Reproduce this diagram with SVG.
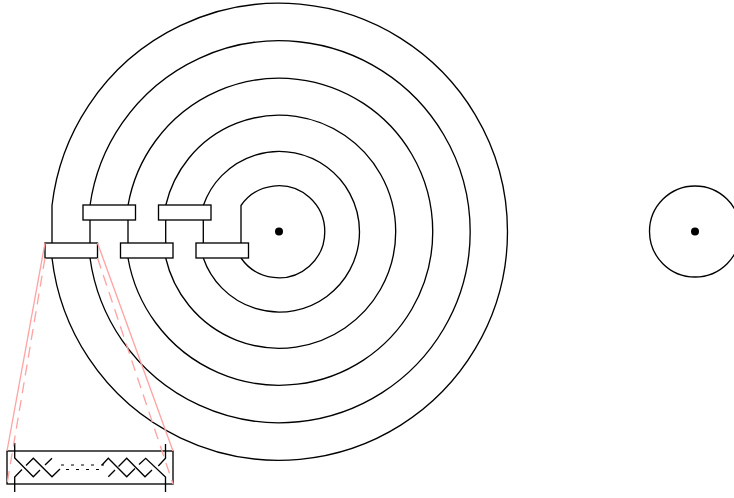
<svg xmlns="http://www.w3.org/2000/svg" width="734" height="498" viewBox="0 0 734 498">
<style>
.l{fill:none;stroke:#000;stroke-width:1.33}
.b{fill:#fff;stroke:#000;stroke-width:1.33}
.d{fill:#000;stroke:none}
.p{fill:none;stroke:#ffa3a3;stroke-width:1.33}
.pd{stroke-dasharray:11 7}
.dash{fill:none;stroke:#000;stroke-width:1.2;stroke-dasharray:3 7}
</style>
<rect width="734" height="498" fill="#fff"/>
<g id="coil" class="l">
<path d="M241,243V205.500A46 46 0 1 1 241,258"/>
<path d="M203.300,243V205.500A80.300 80.300 0 1 1 203.300,258"/>
<path d="M165.700,243V205.500A116.500 116.500 0 1 1 165.700,258"/>
<path d="M128,243V205.500A153.500 153.500 0 1 1 128,258"/>
<path d="M90,243V205.500A191 191 0 1 1 90,258"/>
<path d="M52,243V205.500A228.500 228.500 0 1 1 52,258"/>
</g>
<g id="gates">
<rect class="b" x="83" y="205" width="52.500" height="15"/>
<rect class="b" x="158.500" y="205" width="52.500" height="15"/>
<rect class="b" x="45" y="243" width="52.500" height="15"/>
<rect class="b" x="120.500" y="243" width="52.500" height="15"/>
<rect class="b" x="196" y="243" width="52.500" height="15"/>
</g>
<circle id="center-dot" class="d" cx="279" cy="231.500" r="4"/>
<g id="right-disc">
<circle class="l" cx="695" cy="231.500" r="45.500"/>
<circle class="d" cx="695" cy="231.500" r="4"/>
</g>
<g id="inset">
<rect class="l" x="7" y="451" width="166" height="33"/>
<path class="l" d="M14.700,443V458L33.300,476.700L40,470M45,465L52,458.300"/>
<path class="l" d="M14.700,492V477L22,469.500M26,465.500L33.300,458.300L52,476.700L60,469"/>
<path class="l" d="M102,465L108.300,458.300L126.700,476.700L135,468.500M139,464.500L145.700,458.300L165.500,477V492"/>
<path class="l" d="M108.300,476.700L115,470M118.500,466.500L126.700,458.300L145,476.700L152,470M158.300,466L165.500,458.300V444"/>
<path class="dash" d="M61,465H104"/>
<path class="dash" d="M66,469.500H102"/>
</g>
<g id="connectors">
<path class="p" d="M45,243L7,451"/>
<path class="p" d="M97.500,243L173,451"/>
<path class="p pd" d="M45,258L7,484"/>
<path class="p pd" d="M97.500,258L173,484"/>
</g>
</svg>
